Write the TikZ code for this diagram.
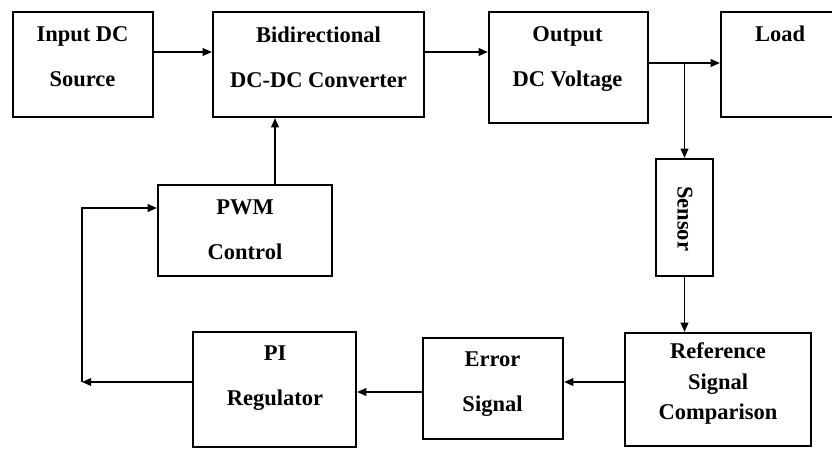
\documentclass[tikz,border=0pt]{standalone}
\usepackage{fontspec}
\setmainfont{Liberation Serif}
\usetikzlibrary{positioning, arrows.meta}

\begin{document}
\begin{tikzpicture}[x=0.025cm, y=-0.025cm,
    blk/.style={draw, line width=1.6pt, inner sep=0pt},
    lbl/.style={font=\fontsize{16}{32}\selectfont\bfseries, align=center, inner sep=0pt},
    sig/.style={line width=0.9pt, -{Triangle[length=6.5pt, width=5.5pt]}}]
    \useasboundingbox (0,0) rectangle (832,448);

    % Forward path blocks
    \node[blk, minimum width=3.5cm, minimum height=2.625cm] (inp) at (83,64.5) {};
    \node[blk, minimum width=5.275cm, minimum height=2.625cm] (bdc) at (318.5,64.5) {};
    \node[blk, minimum width=3.975cm, minimum height=2.775cm] (out) at (568.5,67.5) {};
    \node[blk, minimum width=2.95cm, minimum height=2.625cm] (load) at (780,64.5) {};

    % Feedback path blocks
    \node[blk, minimum width=1.425cm, minimum height=2.925cm] (sen) at (684.5,217.5) {};
    \node[blk, minimum width=4.65cm, minimum height=2.825cm] (ref) at (718,389.5) {};
    \node[blk, minimum width=3.5cm, minimum height=2.525cm] (err) at (493,388.5) {};
    \node[blk, minimum width=4.075cm, minimum height=2.875cm] (pi) at (274.5,389.5) {};
    \node[blk, minimum width=4.35cm, minimum height=2.275cm] (pwm) at (245,230.5) {};

    % Block labels
    \node[lbl] (inpT) at (82.5,57) {Input DC\\Source};
    \node[lbl] (bdcT) at (318.5,57) {Bidirectional\\DC-DC Converter};
    \node[lbl] (outT) at (567.5,59) {Output\\DC Voltage};
    \node[lbl, anchor=base] (loadT) at (780,41.7) {Load};
    \node[lbl, rotate=-90] (senT) at (685,218.5) {Sensor};
    \node[lbl, font=\fontsize{16}{22}\selectfont\bfseries] (refT) at (718,383.5) {Reference\\Signal\\Comparison};
    \node[lbl] (errT) at (492.5,384) {Error\\Signal};
    \node[lbl] (piT) at (275,378) {PI\\Regulator};
    \node[lbl] (pwmT) at (245,230) {PWM\\Control};

    % Signal rows and columns
    \coordinate (r1) at (0,52);
    \coordinate (r2) at (0,63);
    \coordinate (r3) at (0,208);
    \coordinate (r4) at (0,382);
    \coordinate (r5) at (0,392);
    \coordinate (c1) at (275,0);
    \coordinate (fb) at (82,382);

    % Connections
    \draw[sig] (inp.east |- r1) -- (bdc.west |- r1);
    \draw[sig] (bdc.east |- r1) -- (out.west |- r1);
    \draw[sig] (out.east |- r2) -- (load.west |- r2);
    \draw[sig] (sen.north |- r2) -- (sen.north);
    \draw[sig] (sen.south) -- (sen.south |- ref.north);
    \draw[sig] (ref.west |- r4) -- (err.east |- r4);
    \draw[sig] (err.west |- r5) -- (pi.east |- r5);
    \draw[sig] (pi.west |- r4) -- (fb);
    \draw[sig] (fb) |- (pwm.west |- r3);
    \draw[sig] (pwm.north -| c1) -- (bdc.south -| c1);
\end{tikzpicture}
\end{document}
